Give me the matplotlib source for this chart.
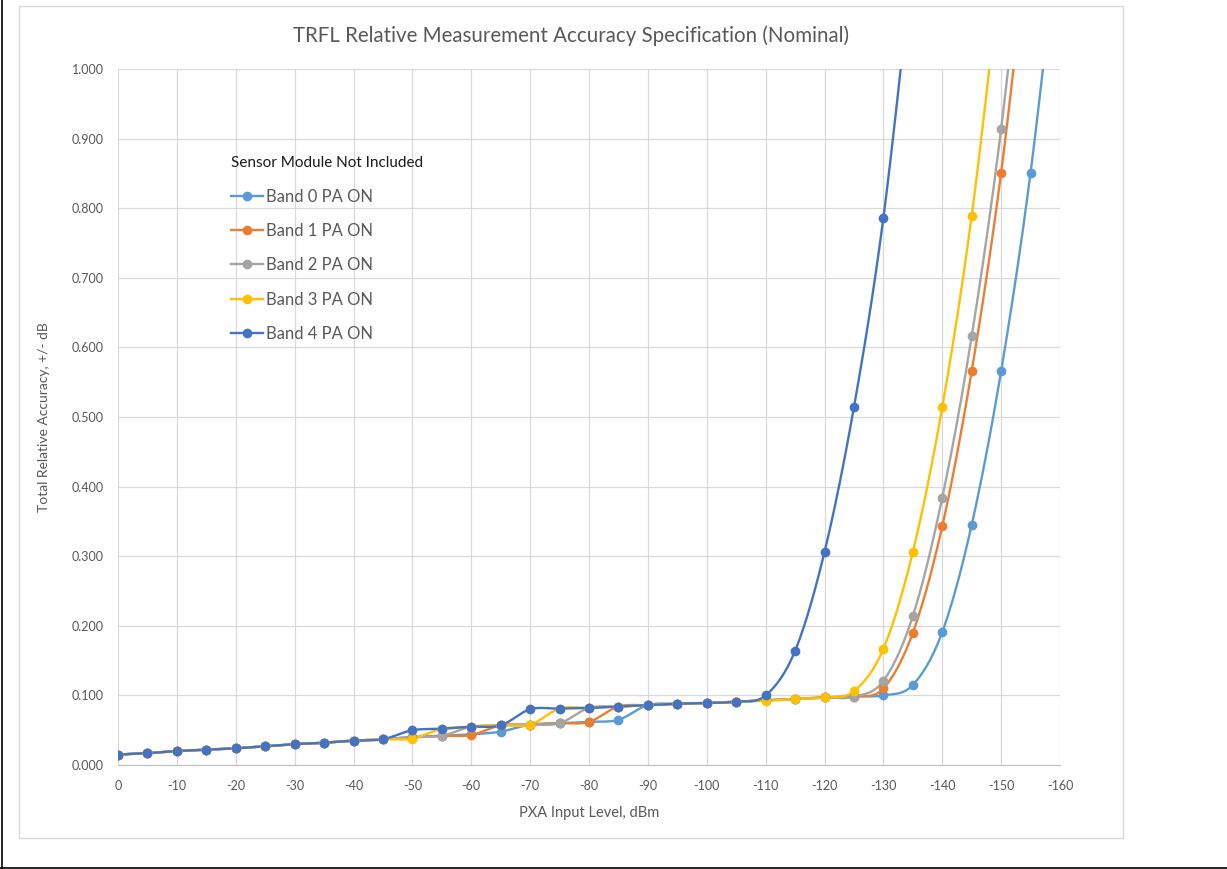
import numpy as np
import matplotlib
matplotlib.use("Agg")
import matplotlib.pyplot as plt
from matplotlib.lines import Line2D
from matplotlib.patches import Rectangle

plt.rcParams['font.family'] = ['Lato', 'DejaVu Sans']
plt.rcParams['axes.unicode_minus'] = False

# ---- data ----
x_levels = [0, -5, -10, -15, -20, -25, -30, -35, -40, -45, -50, -55, -60, -65,
            -70, -75, -80, -85, -90, -95, -100, -105, -110, -115, -120, -125,
            -130, -135, -140, -145, -150, -155, -160]

band0 = [0.015, 0.017, 0.020, 0.022, 0.024, 0.027, 0.030, 0.032, 0.035, 0.037,
         0.040, 0.042, 0.044, 0.048, 0.058, 0.060, 0.062, 0.065,
         0.086, 0.088, 0.089, 0.091,
         0.093, 0.095, 0.097, 0.099, 0.100, 0.115, 0.191, 0.345, 0.566, 0.851, 1.22]
band1 = [0.015, 0.017, 0.020, 0.022, 0.024, 0.027, 0.030, 0.032, 0.035, 0.037,
         0.040, 0.042, 0.043, 0.057, 0.058, 0.060, 0.062,
         0.084, 0.086, 0.088, 0.089, 0.091,
         0.093, 0.095, 0.097, 0.098, 0.110, 0.190, 0.343, 0.566, 0.851, 1.22]
band2 = [0.015, 0.017, 0.020, 0.022, 0.024, 0.027, 0.030, 0.032, 0.035, 0.037,
         0.040, 0.042, 0.055, 0.057, 0.058, 0.060,
         0.082, 0.084, 0.086, 0.088, 0.089, 0.091,
         0.093, 0.095, 0.097, 0.098, 0.121, 0.214, 0.384, 0.616, 0.914, 1.30]
band3 = [0.015, 0.017, 0.020, 0.022, 0.024, 0.027, 0.030, 0.032, 0.035, 0.037,
         0.038, 0.052, 0.055, 0.057, 0.058,
         0.081, 0.082, 0.084, 0.086, 0.088, 0.089, 0.091,
         0.092, 0.095, 0.097, 0.106, 0.167, 0.306, 0.514, 0.789, 1.15]
band4 = [0.015, 0.017, 0.020, 0.022, 0.024, 0.027, 0.030, 0.032, 0.035, 0.037,
         0.050, 0.052, 0.055, 0.057,
         0.080, 0.081, 0.082, 0.084, 0.086, 0.088, 0.089, 0.091,
         0.100, 0.164, 0.306, 0.514, 0.786, 1.16]

series = [band0, band1, band2, band3, band4]
labels = ["Band 0 PA ON", "Band 1 PA ON", "Band 2 PA ON", "Band 3 PA ON", "Band 4 PA ON"]
colors = ["#5B9BD5", "#ED7D31", "#A5A5A5", "#FFC000", "#4472C4"]

x_ticks = list(range(0, -161, -10))
y_ticks = [0.0, 0.1, 0.2, 0.3, 0.4, 0.5, 0.6, 0.7, 0.8, 0.9, 1.0]

title = "TRFL Relative Measurement Accuracy Specification (Nominal)"
xlabel = "PXA Input Level, dBm"
ylabel = "Total Relative Accuracy, +/- dB"
legend_title = "Sensor Module Not Included"


def smooth_curve(xs, ys, n=24):
    """Excel-style smoothed line (Bezier with 1/6 tension) through the points."""
    P = np.column_stack([np.asarray(xs, float), np.asarray(ys, float)])
    out = [P[0]]
    t = np.linspace(0, 1, n)[1:, None]
    for i in range(len(P) - 1):
        p0 = P[i - 1] if i > 0 else P[i]
        p1, p2 = P[i], P[i + 1]
        p3 = P[i + 2] if i + 2 < len(P) else P[i + 1]
        c1 = p1 + (p2 - p0) / 6.0
        c2 = p2 - (p3 - p1) / 6.0
        seg = ((1 - t) ** 3) * p1 + 3 * ((1 - t) ** 2) * t * c1 + 3 * (1 - t) * t ** 2 * c2 + t ** 3 * p2
        out.extend(seg)
    out = np.array(out)
    return out[:, 0], out[:, 1]


W, H = 1227, 869
fig = plt.figure(figsize=(W / 100, H / 100), dpi=100)
fig.patch.set_facecolor("white")

# outer frame lines and chart-area border
fig.add_artist(Line2D([1.5 / W, 1.5 / W], [0, 1], color="black", lw=1.2, transform=fig.transFigure))
fig.add_artist(Line2D([0, 1], [1 - 867.5 / H, 1 - 867.5 / H], color="black", lw=1.2, transform=fig.transFigure))
fig.add_artist(Rectangle((19 / W, 1 - 838 / H), (1123 - 19) / W, (838 - 6) / H,
                         fill=False, edgecolor="#d9d9d9", lw=1.0, transform=fig.transFigure))

left, right, top, bottom = 118, 1060, 69, 765
ax = fig.add_axes([left / W, 1 - bottom / H, (right - left) / W, (bottom - top) / H])

for ys, lab, col in zip(series, labels, colors):
    xs = x_levels[:len(ys)]
    sx, sy = smooth_curve(xs, ys)
    ax.plot(sx, sy, color=col, lw=1.7, solid_capstyle="round", zorder=3)
    ax.plot(xs, ys, linestyle="none", marker="o", markersize=6, color=col, zorder=4)

ax.set_xlim(0, -160)
ax.set_ylim(0, 1.0)
ax.set_xticks(x_ticks)
ax.set_xticklabels([str(v) for v in x_ticks])
ax.set_yticks(y_ticks)
ax.set_yticklabels(["%.3f" % v for v in y_ticks])
ax.grid(True, color="#d9d9d9", lw=0.9)
ax.set_axisbelow(True)
for s in ["top", "right", "left"]:
    ax.spines[s].set_visible(False)
ax.spines["bottom"].set_color("#bfbfbf")
ax.tick_params(length=0, labelsize=9, colors="#595959")
ax.tick_params(axis="y", pad=10)
ax.tick_params(axis="x", pad=11)

ax.set_xlabel(xlabel, fontsize=10.5, color="#595959", labelpad=10)
ax.set_ylabel(ylabel, fontsize=10, color="#595959", labelpad=16)

fig.text(571 / W, 1 - 36 / H, title, ha="center", va="center", fontsize=14.8, color="#595959")

handles = [Line2D([], [], color=c, lw=1.7, marker="o", markersize=6) for c in colors]
leg = ax.legend(handles, labels, title=legend_title, loc="upper left",
                bbox_to_anchor=(223 / W, 1 - 148 / H), bbox_transform=fig.transFigure,
                frameon=False, fontsize=12, title_fontsize=11, handlelength=1.9,
                handletextpad=0.2, labelspacing=1.1, borderpad=0, alignment="left")
for t in leg.get_texts():
    t.set_color("#595959")
leg.get_title().set_color("#1a1a1a")

fig.savefig("out.png", dpi=100, facecolor="white")
